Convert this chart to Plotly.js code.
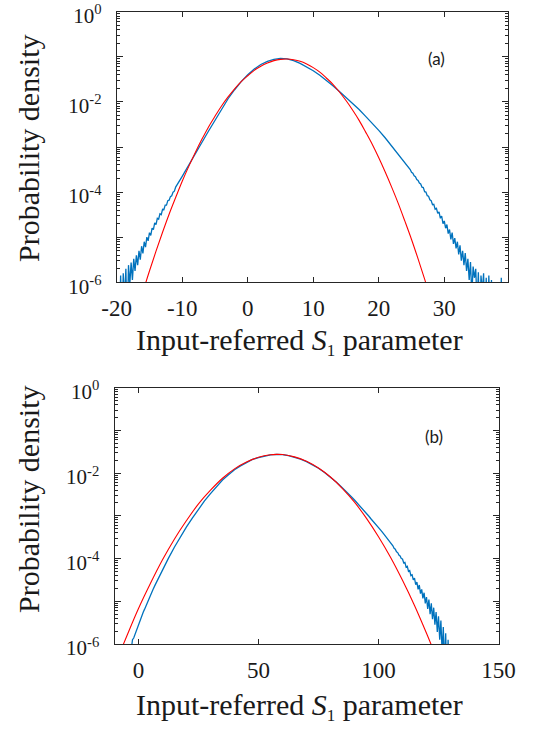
<!DOCTYPE html>
<html>
<head>
<meta charset="utf-8">
<script src="https://cdn.plot.ly/plotly-3.0.1.min.js"></script>
<style>
html,body{margin:0;padding:0;background:#ffffff;}
#plot{width:534px;height:732px;}
</style>
</head>
<body>
<div id="plot"></div>
<script>
const blueA_x = [
 -20,-19.8,-19.6,-19.4,-19.2,-19,-18.8,-18.6,-18.4,-18.2,-18,-17.8,-17.6,-17.4,-17.2,-17,-16.8,-16.6,-16.4,-16.2,
 -16,-15.8,-15.6,-15.4,-15.2,-15,-14.8,-14.6,-14.4,-14.2,-14,-13.8,-13.6,-13.4,-13.2,-13,-12.8,-12.6,-12.4,-12.2,
 -12,-11.8,-11.6,-11.4,-11.2,
 -11,-10,-9,-8,-7,-6,-5,-4,-3,-2,-1,0,1,2,3,4,5,6,7,8,9,10,11,12,13,14,15,16,17,18,19,20,21,22,23,
 24,24.2,24.4,24.6,24.8,25,25.2,25.4,25.6,25.8,26,26.2,26.4,26.6,26.8,27,27.2,27.4,27.6,27.8,
 28,28.2,28.4,28.6,28.8,29,29.2,29.4,29.6,29.8,30,30.2,30.4,30.6,30.8,31,31.2,31.4,31.6,31.8,
 32,32.2,32.4,32.6,32.8,33,33.2,33.4,33.6,33.8,34,34.2,34.4,34.6,34.8,35,35.2,35.4,35.6,35.8,
 36,36.2,36.4,36.6,36.8,37,37.2,37.4,38.6,38.7,38.8,39.8
];
const blueA_log = [
 -7,-6.3,-7,-5.85,-7,-5.8,-6.4,-5.7,-7,-5.62,-6.05,-5.56,-5.95,-5.48,-5.75,-5.4,-5.62,-5.3,-5.5,-5.2,
 -5.36,-5.1,-5.22,-5.0,-5.08,-4.9,-4.96,-4.8,-4.83,-4.68,-4.72,-4.58,-4.6,-4.48,-4.5,-4.38,-4.39,-4.29,-4.29,-4.19,
 -4.18,-4.1,-4.08,-4.0,-3.98,
 -3.89,-3.65,-3.41,-3.15,-2.9,-2.65,-2.4,-2.16,-1.93,-1.73,-1.55,-1.40,-1.27,-1.17,-1.10,-1.055,-1.035,-1.045,-1.085,-1.145,
 -1.22,-1.31,-1.41,-1.52,-1.64,-1.77,-1.90,-2.03,-2.17,-2.32,-2.47,-2.63,-2.80,-2.98,-3.16,
 -3.35,-3.39,-3.42,-3.47,-3.50,-3.56,-3.58,-3.64,-3.66,-3.72,-3.74,-3.80,-3.82,-3.89,-3.90,-3.99,-4.00,-4.08,-4.09,-4.17,
 -4.19,-4.28,-4.27,-4.38,-4.36,-4.47,-4.44,-4.58,-4.53,-4.70,-4.64,-4.80,-4.72,-4.92,-4.83,-5.05,-4.90,-5.15,-5.02,-5.25,
 -5.10,-5.38,-5.18,-5.52,-5.30,-5.62,-5.35,-5.75,-5.48,-5.95,-5.55,-6.3,-5.65,-5.9,-5.7,-6.5,-5.78,-7,-5.85,-6.2,
 -5.8,-7,-5.9,-7,-5.85,-7,-5.95,-7,-7,-5.9,-7,-7
];
// Panel (a): Gaussian fit (red)
const redA_x = [-16,-15,-14,-13,-12,-11,-10,-9,-8,-7,-6,-5,-4,-3,-2,-1,0,1,2,3,4,5,6,7,8,9,10,11,12,13,14,15,16,17,18,19,20,21,22,23,24,25,26,27,28];
const redA_log = [-6.21,-5.75,-5.31,-4.89,-4.49,-4.12,-3.76,-3.43,-3.12,-2.83,-2.56,-2.32,-2.09,-1.89,-1.71,-1.55,-1.42,-1.30,-1.21,-1.14,-1.085,-1.057,-1.05,-1.066,-1.10,-1.16,-1.24,-1.34,-1.47,-1.61,-1.78,-1.97,-2.18,-2.41,-2.67,-2.94,-3.24,-3.56,-3.90,-4.26,-4.65,-5.05,-5.48,-5.93,-6.40];

// ---------- Panel (b) ----------
const blueB_x = [
 -6,-5.5,-5,-4.5,-4,-3.5,-3,-2.5,-2,-1.5,-1,-0.5,0,0.5,1,1.5,2,2.5,3,3.5,4,5,6,7,8,9,10,11,12,
 12.5,15,17.5,20,22.5,25,27.5,30,32.5,35,37.5,40,42.5,45,47.5,50,52.5,55,57.5,60,62.5,65,67.5,70,72.5,75,77.5,80,82.5,85,
 86,87,88,89,90,91,92,93,94,95,96,97,98,99,100,101,102,103,104,
 104.5,105,105.5,106,106.5,107,107.5,108,108.5,109,109.5,110,110.5,111,111.5,112,112.5,113,113.5,114,114.5,115,115.5,116,116.5,
 117,117.5,118,118.5,119,119.5,120,120.5,121,121.5,122,122.5,123,123.5,124,124.5,125,125.5,126,126.5,127,127.5,128,128.5,129,129.5
];
const blueB_log = [
 -7,-6.6,-7,-6.2,-6.35,-6.02,-6.12,-5.9,-5.86,-5.78,-5.72,-5.63,-5.52,-5.47,-5.39,-5.33,-5.25,-5.19,-5.12,-5.05,-4.99,-4.86,-4.73,-4.61,-4.49,-4.37,-4.26,-4.15,-4.04,
 -3.99,-3.73,-3.48,-3.26,-3.05,-2.84,-2.65,-2.48,-2.31,-2.16,-2.04,-1.92,-1.83,-1.75,-1.68,-1.635,-1.595,-1.57,-1.56,-1.565,-1.59,-1.625,-1.67,-1.73,-1.80,-1.885,-1.985,-2.09,-2.215,-2.35,
 -2.40,-2.46,-2.51,-2.57,-2.63,-2.69,-2.76,-2.82,-2.88,-2.95,-3.01,-3.08,-3.14,-3.21,-3.27,-3.34,-3.41,-3.48,-3.55,
 -3.59,-3.62,-3.68,-3.70,-3.76,-3.78,-3.84,-3.86,-3.92,-3.94,-4.00,-4.01,-4.10,-4.09,-4.20,-4.18,-4.30,-4.28,-4.40,-4.38,-4.50,-4.46,-4.61,-4.55,-4.72,
 -4.62,-4.82,-4.72,-4.93,-4.80,-5.05,-4.90,-5.18,-4.96,-5.3,-5.05,-5.42,-5.15,-5.55,-5.25,-5.72,-5.35,-5.9,-5.45,-6.2,-5.6,-6.5,-5.75,-7,-5.9,-7
];
const redB_x = [-7.5,-5,0,5,10,15,20,25,30,35,40,45,50,55,57.5,60,65,70,75,80,85,90,95,100,105,110,115,120,123];
const redB_log = [-6.17,-5.83,-5.17,-4.58,-4.03,-3.54,-3.11,-2.72,-2.40,-2.12,-1.90,-1.74,-1.63,-1.57,-1.56,-1.565,-1.62,-1.72,-1.88,-2.09,-2.36,-2.68,-3.06,-3.49,-3.97,-4.51,-5.10,-5.75,-6.16];

// ---------- Ticks and labels ----------
const xTicksA = [-20,-10,0,10,20,30];
const xTickTextA = ['-20','-10','0','10','20','30'];
const xTicksB = [0,50,100,150];
const xTickTextB = ['0','50','100','150'];
const yTickVals = [1e-6,1e-5,1e-4,1e-3,1e-2,1e-1,1];
const yTickText = ['10<sup>-6</sup>','','10<sup>-4</sup>','','10<sup>-2</sup>','','10<sup>0</sup>'];
const yTitle = 'Probability density';
const xTitle = 'Input-referred <i>S</i><sub><span style="font-size:17px">1</span></sub> parameter';
const panelLabels = ['(a)','(b)'];

const toDensity = a => a.map(v => Math.pow(10, v));
const minorVals = [];
for (let e = -6; e < 0; e++) for (let m = 2; m <= 9; m++) minorVals.push(m * Math.pow(10, e));

const BLUE = '#0072BD', RED = '#FF0000', AX = '#262626', TXT = '#1a1a1a';
const SERIF = 'Liberation Serif, Times New Roman, serif';

const traces = [
  {x: blueA_x, y: toDensity(blueA_log), xaxis: 'x', yaxis: 'y', mode: 'lines', line: {color: BLUE, width: 1.3}, hoverinfo: 'skip'},
  {x: redA_x, y: toDensity(redA_log), xaxis: 'x', yaxis: 'y', mode: 'lines', line: {color: RED, width: 1.1, shape: 'spline'}, hoverinfo: 'skip'},
  {x: blueB_x, y: toDensity(blueB_log), xaxis: 'x2', yaxis: 'y2', mode: 'lines', line: {color: BLUE, width: 1.3}, hoverinfo: 'skip'},
  {x: redB_x, y: toDensity(redB_log), xaxis: 'x2', yaxis: 'y2', mode: 'lines', line: {color: RED, width: 1.1, shape: 'spline'}, hoverinfo: 'skip'}
];

function xAxis(domain, range, ticks, texts, anchor) {
  return {domain: domain, range: range, anchor: anchor, tickmode: 'array', tickvals: ticks, ticktext: texts,
    ticks: 'inside', ticklen: 5, tickwidth: 1, tickcolor: AX, mirror: 'ticks', showline: true,
    linecolor: AX, linewidth: 1, showgrid: false, zeroline: false, automargin: false,
    ticklabelstandoff: 5, ticklabeloverflow: 'allow',
    tickfont: {family: SERIF, size: 23, color: TXT}};
}
function yAxis(domain, anchor) {
  return {domain: domain, type: 'log', range: [-6, 0], anchor: anchor, tickmode: 'array',
    tickvals: yTickVals, ticktext: yTickText, ticks: 'inside', ticklen: 6, tickwidth: 1, tickcolor: AX,
    mirror: 'ticks', showline: true, linecolor: AX, linewidth: 1, showgrid: false, zeroline: false,
    automargin: false, ticklabelstandoff: 10, ticklabelshift: 4, ticklabeloverflow: 'allow',
    tickfont: {family: SERIF, size: 21, color: TXT},
    minor: {tickmode: 'array', tickvals: minorVals, ticks: 'inside', ticklen: 3, tickcolor: AX, showgrid: false}};
}

const W = 534, H = 732;
const layout = {
  width: W, height: H, margin: {l: 0, r: 0, t: 0, b: 0},
  paper_bgcolor: '#ffffff', plot_bgcolor: '#ffffff', showlegend: false,
  xaxis: xAxis([116.7 / W, 508.3 / W], [-20, 39.77], xTicksA, xTickTextA, 'y'),
  yaxis: yAxis([(H - 282.3) / H, (H - 11.7) / H], 'x'),
  xaxis2: xAxis([114.5 / W, 498.5 / W], [-10, 150], xTicksB, xTickTextB, 'y2'),
  yaxis2: yAxis([(H - 644) / H, (H - 387.7) / H], 'x2'),
  annotations: [
    {text: yTitle, xref: 'paper', yref: 'paper', x: 28 / W, y: (H - 148) / H, textangle: -90, showarrow: false,
     xanchor: 'center', yanchor: 'middle', font: {family: SERIF, size: 30, color: TXT}},
    {text: yTitle, xref: 'paper', yref: 'paper', x: 28 / W, y: (H - 499) / H, textangle: -90, showarrow: false,
     xanchor: 'center', yanchor: 'middle', font: {family: SERIF, size: 30, color: TXT}},
    {text: xTitle, xref: 'paper', yref: 'paper', x: 299.4 / W, y: (H - 341) / H, showarrow: false,
     xanchor: 'center', yanchor: 'middle', font: {family: SERIF, size: 30, color: TXT}},
    {text: xTitle, xref: 'paper', yref: 'paper', x: 299.4 / W, y: (H - 706) / H, showarrow: false,
     xanchor: 'center', yanchor: 'middle', font: {family: SERIF, size: 30, color: TXT}},
    {text: panelLabels[0], xref: 'paper', yref: 'paper', x: 436 / W, y: (H - 58.5) / H, showarrow: false,
     xanchor: 'center', yanchor: 'middle', font: {family: 'Lato, Open Sans, sans-serif', size: 17, color: TXT}},
    {text: panelLabels[1], xref: 'paper', yref: 'paper', x: 434 / W, y: (H - 436) / H, showarrow: false,
     xanchor: 'center', yanchor: 'middle', font: {family: 'Lato, Open Sans, sans-serif', size: 17, color: TXT}}
  ]
};

Plotly.newPlot('plot', traces, layout, {staticPlot: true, displayModeBar: false});
</script>
</body>
</html>
